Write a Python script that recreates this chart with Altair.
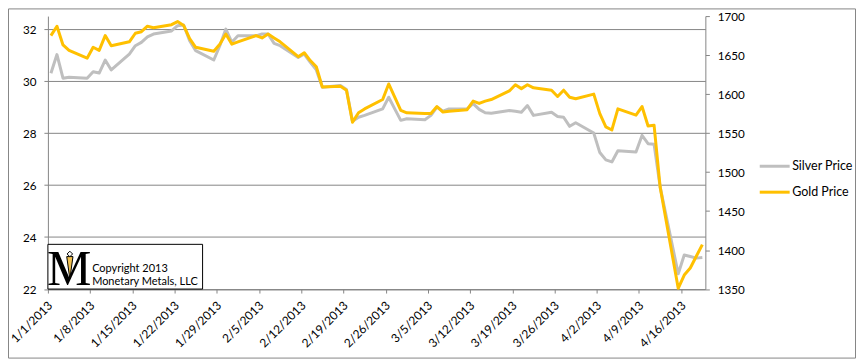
import altair as alt
import pandas as pd

# ---------------- data ----------------
dates = [
    "2013-01-01", "2013-01-02", "2013-01-03", "2013-01-04",
    "2013-01-07", "2013-01-08", "2013-01-09", "2013-01-10", "2013-01-11",
    "2013-01-14", "2013-01-15", "2013-01-16", "2013-01-17", "2013-01-18",
    "2013-01-21", "2013-01-22", "2013-01-23", "2013-01-24", "2013-01-25",
    "2013-01-28", "2013-01-29", "2013-01-30", "2013-01-31", "2013-02-01",
    "2013-02-04", "2013-02-05", "2013-02-06", "2013-02-07", "2013-02-08",
    "2013-02-11", "2013-02-12", "2013-02-13", "2013-02-14", "2013-02-15",
    "2013-02-18", "2013-02-19", "2013-02-20", "2013-02-21", "2013-02-22",
    "2013-02-25", "2013-02-26", "2013-02-27", "2013-02-28", "2013-03-01",
    "2013-03-04", "2013-03-05", "2013-03-06", "2013-03-07", "2013-03-08",
    "2013-03-11", "2013-03-12", "2013-03-13", "2013-03-14", "2013-03-15",
    "2013-03-18", "2013-03-19", "2013-03-20", "2013-03-21", "2013-03-22",
    "2013-03-25", "2013-03-26", "2013-03-27", "2013-03-28", "2013-03-29",
    "2013-04-01", "2013-04-02", "2013-04-03", "2013-04-04", "2013-04-05",
    "2013-04-08", "2013-04-09", "2013-04-10", "2013-04-11", "2013-04-12",
    "2013-04-15", "2013-04-16", "2013-04-17", "2013-04-18", "2013-04-19",
]
silver_price = [
    30.30, 31.02, 30.11, 30.15,
    30.11, 30.36, 30.31, 30.81, 30.43,
    31.04, 31.36, 31.49, 31.70, 31.81,
    31.93, 32.13, 32.16, 31.55, 31.17,
    30.81, 31.36, 32.00, 31.49, 31.74,
    31.74, 31.81, 31.81, 31.45, 31.36,
    30.91, 31.04, 30.72, 30.43, 29.76,
    29.83, 29.68, 28.45, 28.61, 28.68,
    28.93, 29.38, 28.93, 28.49, 28.55,
    28.51, 28.68, 29.00, 28.84, 28.93,
    28.93, 29.13, 28.91, 28.78, 28.76,
    28.87, 28.84, 28.80, 29.06, 28.68,
    28.80, 28.64, 28.61, 28.26, 28.40,
    28.00, 27.25, 26.97, 26.89, 27.32,
    27.27, 27.91, 27.59, 27.57, 25.93,
    22.59, 23.31, 23.25, 23.19, 23.21,
]
gold_price = [
    1675, 1687, 1663, 1656,
    1646, 1660, 1656, 1675, 1662,
    1667, 1678, 1680, 1687, 1685,
    1689, 1693, 1688, 1671, 1660,
    1655, 1664, 1677, 1664, 1667,
    1675, 1672, 1677, 1672, 1667,
    1648, 1653, 1643, 1635, 1609,
    1610, 1605, 1564, 1576, 1581,
    1593, 1613, 1596, 1579, 1576,
    1575, 1575, 1584, 1577, 1578,
    1580, 1591, 1588, 1591, 1593,
    1604, 1612, 1607, 1612, 1608,
    1605, 1597, 1605, 1596, 1594,
    1600, 1575, 1558, 1554, 1581,
    1573, 1584, 1559, 1560, 1481,
    1351, 1368, 1377, 1392, 1407,
]
series_names = ["Silver Price", "Gold Price"]
silver_ticks = [22, 24, 26, 28, 30, 32]
gold_ticks = [1350, 1400, 1450, 1500, 1550, 1600, 1650, 1700]
date_ticks = ["1/1/2013", "1/8/2013", "1/15/2013", "1/22/2013", "1/29/2013",
              "2/5/2013", "2/12/2013", "2/19/2013", "2/26/2013", "3/5/2013",
              "3/12/2013", "3/19/2013", "3/26/2013", "4/2/2013", "4/9/2013",
              "4/16/2013"]
copyright_lines = ["Copyright 2013", "Monetary Metals, LLC"]
logo_letter = "M"

# ---------------- style ----------------
FONT = "Lato"
AXIS_GREY = "#868686"
SILVER = "#BFBFBF"
GOLD = "#FFC000"


def to_dt(label):
    m, d, y = (int(p) for p in label.split("/"))
    return alt.DateTime(year=y, month=m, date=d)


df = pd.DataFrame({
    "date": [d + "T12:00:00" for d in dates],
    "silver": silver_price,
    "gold": gold_price,
})

x_scale = alt.Scale(domain=[alt.DateTime(year=2013, month=1, date=1),
                            alt.DateTime(year=2013, month=4, date=20)])
s_scale = alt.Scale(domain=[22, 32.5], nice=False, zero=False)
g_scale = alt.Scale(domain=[1350, 1700], nice=False, zero=False)
color_scale = alt.Scale(domain=series_names, range=[SILVER, GOLD])

x_axis = alt.Axis(values=[to_dt(s) for s in date_ticks], format="%-m/%-d/%Y",
                  labelAngle=-45, labelAlign="right", labelBaseline="middle",
                  labelPadding=10, labelOffset=2, tickSize=4,
                  tickColor=AXIS_GREY, domainColor=AXIS_GREY,
                  labelFont=FONT, labelFontSize=12,
                  labelColor="#000000", grid=False, title=None,
                  labelOverlap=False, labelFlush=False)
s_axis = alt.Axis(values=silver_ticks, orient="left", title=None, grid=True,
                  gridColor=AXIS_GREY, gridWidth=1, tickSize=4,
                  tickColor=AXIS_GREY, domainColor=AXIS_GREY,
                  labelFont=FONT, labelFontSize=11.7, labelColor="#000000",
                  labelPadding=8, format="d")
g_axis = alt.Axis(values=gold_ticks, orient="right", title=None, grid=False,
                  tickSize=4, tickColor=AXIS_GREY, domainColor=AXIS_GREY,
                  labelFont=FONT, labelFontSize=11.7, labelColor="#000000",
                  labelPadding=8, format="d")

legend = alt.Legend(orient="none", legendX=712, legendY=134, title=None,
                    symbolType="stroke", symbolSize=900, symbolStrokeWidth=3,
                    labelFont=FONT, labelFontSize=12.5, labelColor="#000000",
                    rowPadding=3, padding=0, labelOffset=1)


def xa(field):
    # every layer shares the same x scale and the same x axis definition
    return alt.X(field, scale=x_scale, axis=x_axis)


silver_line = alt.Chart(df).transform_calculate(
    series="'" + series_names[0] + "'"
).mark_line(strokeWidth=3, strokeJoin="round").encode(
    x=xa("date:T"),
    y=alt.Y("silver:Q", scale=s_scale, axis=s_axis),
    color=alt.Color("series:N", scale=color_scale, legend=legend),
)
gold_line = alt.Chart(df).transform_calculate(
    series="'" + series_names[1] + "'"
).mark_line(strokeWidth=3, strokeJoin="round").encode(
    x=xa("date:T"),
    y=alt.Y("gold:Q", scale=g_scale, axis=g_axis),
    color=alt.Color("series:N", scale=color_scale, legend=legend),
)

# copyright box (placed in data space of the silver axis)
box_df = pd.DataFrame({"date": ["2013-01-01T00:00:00"], "x2": ["2013-01-26T15:30:00"],
                       "y": [22.0], "y2": [23.72]})
box = alt.Chart(box_df).mark_rect(fill="white", stroke="black", strokeWidth=1).encode(
    x=xa("date:T"), x2="x2:T",
    y=alt.Y("y:Q", scale=s_scale, axis=None), y2="y2:Q",
)
logo_df = pd.DataFrame({"date": ["2013-01-04T13:00:00"], "y": [22.16], "t": [logo_letter]})
logo = alt.Chart(logo_df).mark_text(font="Liberation Serif", fontSize=50,
                                    align="center", baseline="alphabetic",
                                    color="black").encode(
    x=xa("date:T"),
    y=alt.Y("y:Q", scale=s_scale, axis=None), text="t:N")
pend_df = pd.DataFrame({"date": ["2013-01-04T15:20:00"], "y": [22.82]})
pendant = alt.Chart(pend_df).mark_point(
    shape="M-0.28,-1L0.28,-1L0,1Z", filled=True, fill="#F0C050",
    stroke="black", strokeWidth=1, size=500, opacity=1).encode(
    x=xa("date:T"),
    y=alt.Y("y:Q", scale=s_scale, axis=None))
dia_df = pd.DataFrame({"date": ["2013-01-04T15:20:00"], "y": [23.35]})
diamond = alt.Chart(dia_df).mark_point(
    shape="diamond", filled=True, fill="white", stroke="black",
    strokeWidth=1, size=30, opacity=1).encode(
    x=xa("date:T"),
    y=alt.Y("y:Q", scale=s_scale, axis=None))
text_df = pd.DataFrame({"date": ["2013-01-08T08:00:00"] * 2,
                        "y": [22.674, 22.138], "t": copyright_lines})
ctext = alt.Chart(text_df).mark_text(font=FONT, fontSize=11, align="left",
                                     baseline="alphabetic", color="black").encode(
    x=xa("date:T"),
    y=alt.Y("y:Q", scale=s_scale, axis=None), text="t:N")

# outer chart border (decoration)
frame = alt.Chart(pd.DataFrame({"a": [0]})).mark_rect(
    fill="transparent", stroke=AXIS_GREY, strokeWidth=1).encode(
    x=alt.value(-39.5), x2=alt.value(809.5), y=alt.value(-7.2), y2=alt.value(342.8))

# every layer with the silver scale carries the same explicit domain, so the
# independent y scales map identically
chart = alt.layer(silver_line, box, logo, pendant, diamond, ctext,
                  gold_line, frame).resolve_scale(
    y="independent"
).properties(
    width=659, height=273.6, autosize="none",
    padding={"left": 40, "top": 7.7, "right": 152, "bottom": 71},
    background="white",
).configure_view(strokeWidth=0)

chart.save("out.html", embed_options={"renderer": "svg", "actions": False})
